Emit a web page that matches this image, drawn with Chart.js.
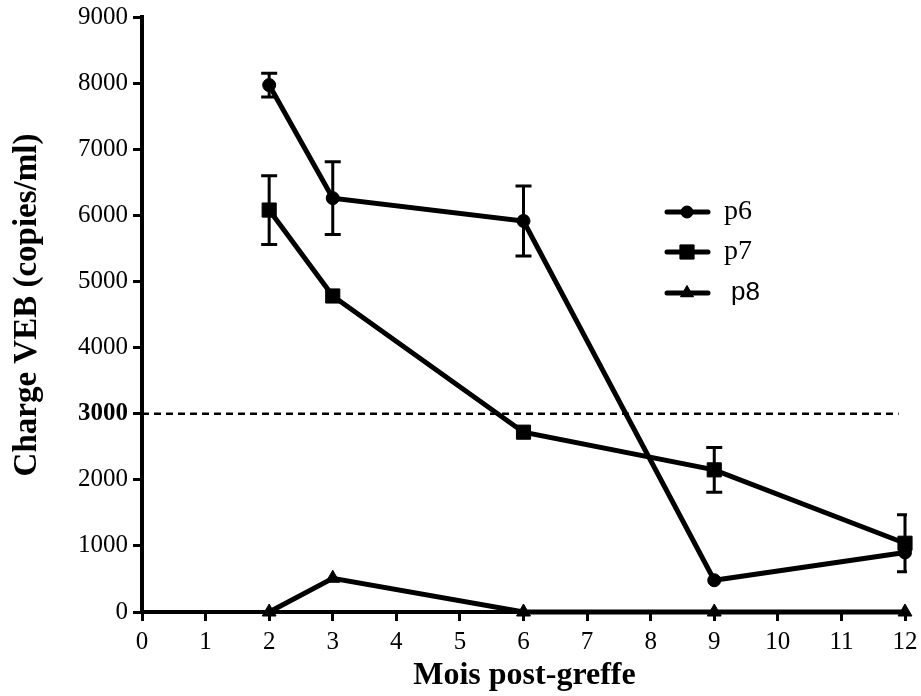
<!DOCTYPE html>
<html>
<head>
<meta charset="utf-8">
<script src="https://cdn.jsdelivr.net/npm/chart.js@4/dist/chart.umd.min.js"></script>
<style>
  html, body { margin: 0; padding: 0; background: #fff; }
  #wrap { width: 921px; height: 696px; position: relative; }
</style>
</head>
<body>
<div id="wrap"><canvas id="c" width="921" height="696"></canvas></div>
<script>
// ---- data ----
const months = [2, 3, 6, 9, 12];
const p6 = [7970, 6260, 5915, 480, 900];
const p6Err = [180, 550, 530, 0, 0];
const p7 = [6080, 4780, 2720, 2150, 1040];
const p7Err = [520, 0, 0, 340, 430];
const p8 = [0, 510, 0, 0, 0];
const thresholdX = [0, 11.9];
const thresholdY = [3000, 3000];
const seriesNames = ['p6', 'p7', 'p8'];
const xTitle = 'Mois post-greffe';
const yTitle = 'Charge VEB (copies/ml)';
const xTicks = [0,1,2,3,4,5,6,7,8,9,10,11,12];
const yTicks = [0,1000,2000,3000,4000,5000,6000,7000,8000,9000];

const SERIF = '"Liberation Serif", "Times New Roman", serif';
const SANS = '"Liberation Sans", Arial, sans-serif';

const toXY = (xs, ys) => xs.map((x, i) => ({x: x, y: ys[i]}));

const errorBars = {
  id: 'errorBars',
  afterDatasetsDraw(chart) {
    const {ctx, scales: {x, y}, chartArea} = chart;
    ctx.save();
    ctx.beginPath();
    ctx.rect(chartArea.left - 20, 0, chartArea.right - chartArea.left + 22, chart.height);
    ctx.clip();
    ctx.strokeStyle = '#000';
    ctx.lineWidth = 3;
    const draw = (vals, errs) => {
      vals.forEach((v, i) => {
        const e = errs[i];
        if (!e) return;
        const px = x.getPixelForValue(months[i]);
        const top = y.getPixelForValue(v + e);
        const bot = y.getPixelForValue(v - e);
        ctx.beginPath();
        ctx.moveTo(px, top); ctx.lineTo(px, bot);
        ctx.moveTo(px - 8, top); ctx.lineTo(px + 8, top);
        ctx.moveTo(px - 8, bot); ctx.lineTo(px + 8, bot);
        ctx.stroke();
      });
    };
    draw(p6, p6Err);
    draw(p7, p7Err);
    ctx.restore();
  }
};

const customText = {
  id: 'customText',
  afterDraw(chart) {
    const {ctx, chartArea} = chart;
    ctx.save();
    ctx.fillStyle = '#000';
    // x title
    ctx.font = 'bold 32px ' + SERIF;
    ctx.textAlign = 'center';
    ctx.textBaseline = 'middle';
    ctx.fillText(xTitle, (chartArea.left + chartArea.right) / 2 + 1, 676);
    // y title
    ctx.save();
    ctx.translate(27, 305);
    ctx.rotate(-Math.PI / 2);
    ctx.font = 'bold 33px ' + SERIF;
    ctx.fillText(yTitle, 0, 0);
    ctx.restore();
    // legend
    const items = [
      {name: seriesNames[0], style: 'circle', r: 6, font: '28px ' + SERIF, lx: 724},
      {name: seriesNames[1], style: 'rect', r: 10, font: '28px ' + SERIF, lx: 724},
      {name: seriesNames[2], style: 'triangle', r: 7.5, font: '26px ' + SANS, lx: 731}
    ];
    const ys = [212, 252, 293];
    items.forEach((it, i) => {
      const yy = ys[i];
      ctx.strokeStyle = '#000';
      ctx.lineWidth = 5;
      ctx.lineCap = 'round';
      ctx.beginPath();
      ctx.moveTo(667, yy); ctx.lineTo(708, yy);
      ctx.stroke();
      ctx.lineCap = 'butt';
      ctx.lineWidth = 1;
      Chart.helpers.drawPoint(ctx, {pointStyle: it.style, radius: it.r, borderWidth: 1, rotation: 0}, 687, yy);
      ctx.fill();
      ctx.font = it.font;
      ctx.textAlign = 'left';
      ctx.textBaseline = 'middle';
      ctx.fillText(it.name, it.lx, yy);
    });
    ctx.restore();
  }
};

const lineDs = (label, data, style, r) => ({
  label: label,
  data: toXY(months, data),
  borderColor: '#000',
  backgroundColor: '#000',
  borderWidth: 5,
  pointStyle: style,
  pointRadius: r,
  pointHoverRadius: r,
  pointBorderWidth: 1,
  pointBorderColor: '#000',
  pointBackgroundColor: '#000',
  tension: 0,
  clip: 12
});

new Chart(document.getElementById('c'), {
  type: 'line',
  data: {
    datasets: [
      {
        label: 'seuil',
        data: toXY(thresholdX, thresholdY),
        borderColor: '#000',
        borderWidth: 2.5,
        borderDash: [7, 5],
        pointRadius: 0,
        pointHoverRadius: 0,
        fill: false
      },
      lineDs(seriesNames[0], p6, 'circle', 6.5),
      lineDs(seriesNames[1], p7, 'rect', 10),
      lineDs(seriesNames[2], p8, 'triangle', 8)
    ]
  },
  options: {
    responsive: false,
    animation: false,
    events: [],
    layout: { padding: { left: 0, right: 16, top: 17, bottom: 0 } },
    plugins: {
      legend: { display: false },
      tooltip: { enabled: false },
      title: { display: false }
    },
    scales: {
      x: {
        type: 'linear',
        min: 0, max: 12,
        afterBuildTicks: (s) => { s.ticks = xTicks.map(v => ({value: v})); },
        afterFit: (s) => { s.height = 84; s.paddingRight = 0; s.paddingLeft = 0; },
        ticks: {
          color: '#000',
          font: { family: SERIF, size: 25 },
          padding: 6,
          maxRotation: 0,
          autoSkip: false,
          callback: (v) => String(v)
        },
        grid: {
          drawOnChartArea: false,
          drawTicks: true,
          tickLength: 9,
          tickWidth: 3,
          tickColor: '#000'
        },
        border: { display: true, color: '#000', width: 4 }
      },
      y: {
        type: 'linear',
        min: 0, max: 9000,
        afterBuildTicks: (s) => { s.ticks = yTicks.map(v => ({value: v})); },
        afterFit: (s) => { s.width = 142; s.paddingTop = 0; s.paddingBottom = 0; },
        ticks: {
          color: '#000',
          font: (c) => ({ family: SERIF, size: 25, weight: (c.tick && c.tick.value === 3000) ? 'bold' : 'normal' }),
          padding: 5,
          autoSkip: false,
          callback: (v) => String(v)
        },
        grid: {
          drawOnChartArea: false,
          drawTicks: true,
          tickLength: 9,
          tickWidth: 3,
          tickColor: '#000'
        },
        border: { display: true, color: '#000', width: 4 }
      }
    }
  },
  plugins: [errorBars, customText]
});
</script>
</body>
</html>
